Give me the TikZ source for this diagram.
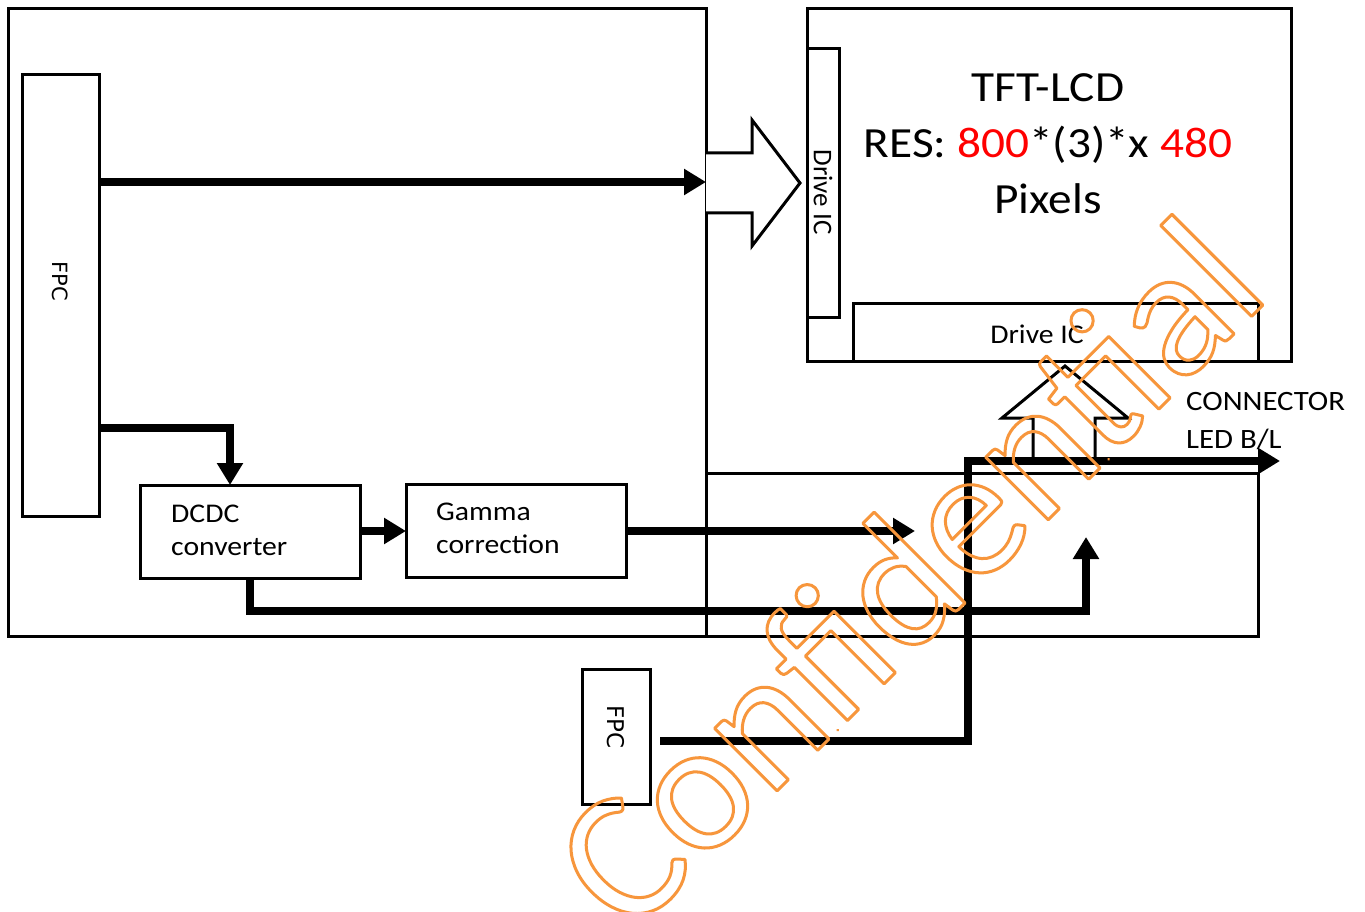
\documentclass[tikz,border=0pt]{standalone}
\usepackage{fontspec}
\setmainfont{Carlito}
\newfontfamily\wfont[FakeStretch=1.1]{Carlito}
\newfontfamily\dvfont{DejaVu Sans}
\usetikzlibrary{arrows.meta}
\definecolor{wmorange}{RGB}{247,150,60}
\definecolor{resred}{RGB}{255,0,0}
\begin{document}
\begin{tikzpicture}[x=1pt,y=-1pt,
  box/.style={draw, line width=3pt, inner sep=0pt, outer sep=0pt, anchor=north west},
  conn/.style={line width=8pt, line join=miter, -{Triangle[length=22pt,width=25pt]}},
  hollow/.style={draw, line width=3pt, fill=white, line join=miter},
  lbl/.style={font=\wfont\fontsize{27}{33}\selectfont, inner sep=0pt, anchor=base west, align=left}
]
\useasboundingbox (0,0) rectangle (1365,912);
\fill[white] (0,0) rectangle (1365,912);

% boxes
\node[box, minimum width=698pt, minimum height=627pt] (main) at (8,9) {};
\node[box, minimum width=552pt, minimum height=163pt] (lower) at (706,473) {};
\node[box, minimum width=484pt, minimum height=352pt] (tft) at (807,9) {};
\node[box, minimum width=32pt, minimum height=268pt] (dicv) at (807,49) {};
\node[box, minimum width=405pt, minimum height=58pt] (dich) at (853,303) {};
\node[box, minimum width=77pt, minimum height=441pt] (fpc1) at (22,75) {};
\node[box, minimum width=220pt, minimum height=93pt] (dcdc) at (140,485) {};
\node[box, minimum width=220pt, minimum height=93pt] (gamma) at (406,484) {};
\node[box, minimum width=68pt, minimum height=135pt] (fpc2) at (582,669) {};

% texts
\node[font=\dvfont\fontsize{21}{21}\selectfont, rotate=-90] (fpc1t) at (fpc1.center |- {0,281}) {FPC};
\node[font=\dvfont\fontsize{23}{23}\selectfont, rotate=-90] (fpc2t) at (fpc2.center |- {0,727}) {FPC};
\node[font=\fontsize{27}{27}\selectfont, rotate=-90] (dicvt) at (dicv.center |- {0,192}) {Drive IC};
\node[font=\wfont\fontsize{27}{27}\selectfont] (dicht) at (1037,334) {Drive IC};
\node[font=\wfont\fontsize{43}{56}\selectfont, align=center] (tftt) at (1048,144)
  {TFT-LCD\\RES: \textcolor{resred}{800}*(3)*x \textcolor{resred}{480}\\Pixels};
\node[lbl] (dcdct) at (171,555) {DCDC\\converter};
\node[lbl] (gammat) at (436,553) {Gamma\\correction};
\node[lbl, font=\wfont\fontsize{28}{38}\selectfont] (connt) at (1186,448) {CONNECTOR\\LED B/L};

% hollow arrows
\path[hollow] (706,153) -- (752,153) -- (752,120) -- (800,183) -- (752,246) -- (752,213) -- (706,213);
\path[hollow] (1033,463) -- (1033,418) -- (1002,418) -- (1065,366) -- (1128,418) -- (1095,418) -- (1095,463);

% connector coordinates
\coordinate (a1) at (0,182);
\coordinate (a2) at (230,428);
\coordinate (g4) at (915,531);
\coordinate (b5) at (1086,611);
\coordinate (b5t) at (1086,537);
\coordinate (c0) at (660,741);
\coordinate (c1) at (968,741);
\coordinate (c2) at (968,461);
\coordinate (c3) at (1280,461);

% thick connectors
\draw[conn] (fpc1.east |- a1) -- (main.east |- a1);
\draw[conn] (fpc1.east |- a2) -- (a2) -- (a2 |- dcdc.north);
\draw[conn] (dcdc.east |- g4) -- (gamma.west |- g4);
\draw[conn] (gamma.east |- g4) -- (g4);
\draw[conn] (dcdc.south) -- (dcdc.south |- b5) -- (b5) -- (b5t);
\draw[conn] (c0) -- (c1) -- (c2) -- (c3);

% watermark
\node[rotate=45, text=wmorange, font=\fontsize{185}{185}\selectfont, inner sep=0pt] (wm) at (906,572)
  {\special{pdf:literal direct 1 Tr 3 w 1 j 1 J}Confidential\special{pdf:literal direct 0 Tr}};
\end{tikzpicture}
\end{document}
